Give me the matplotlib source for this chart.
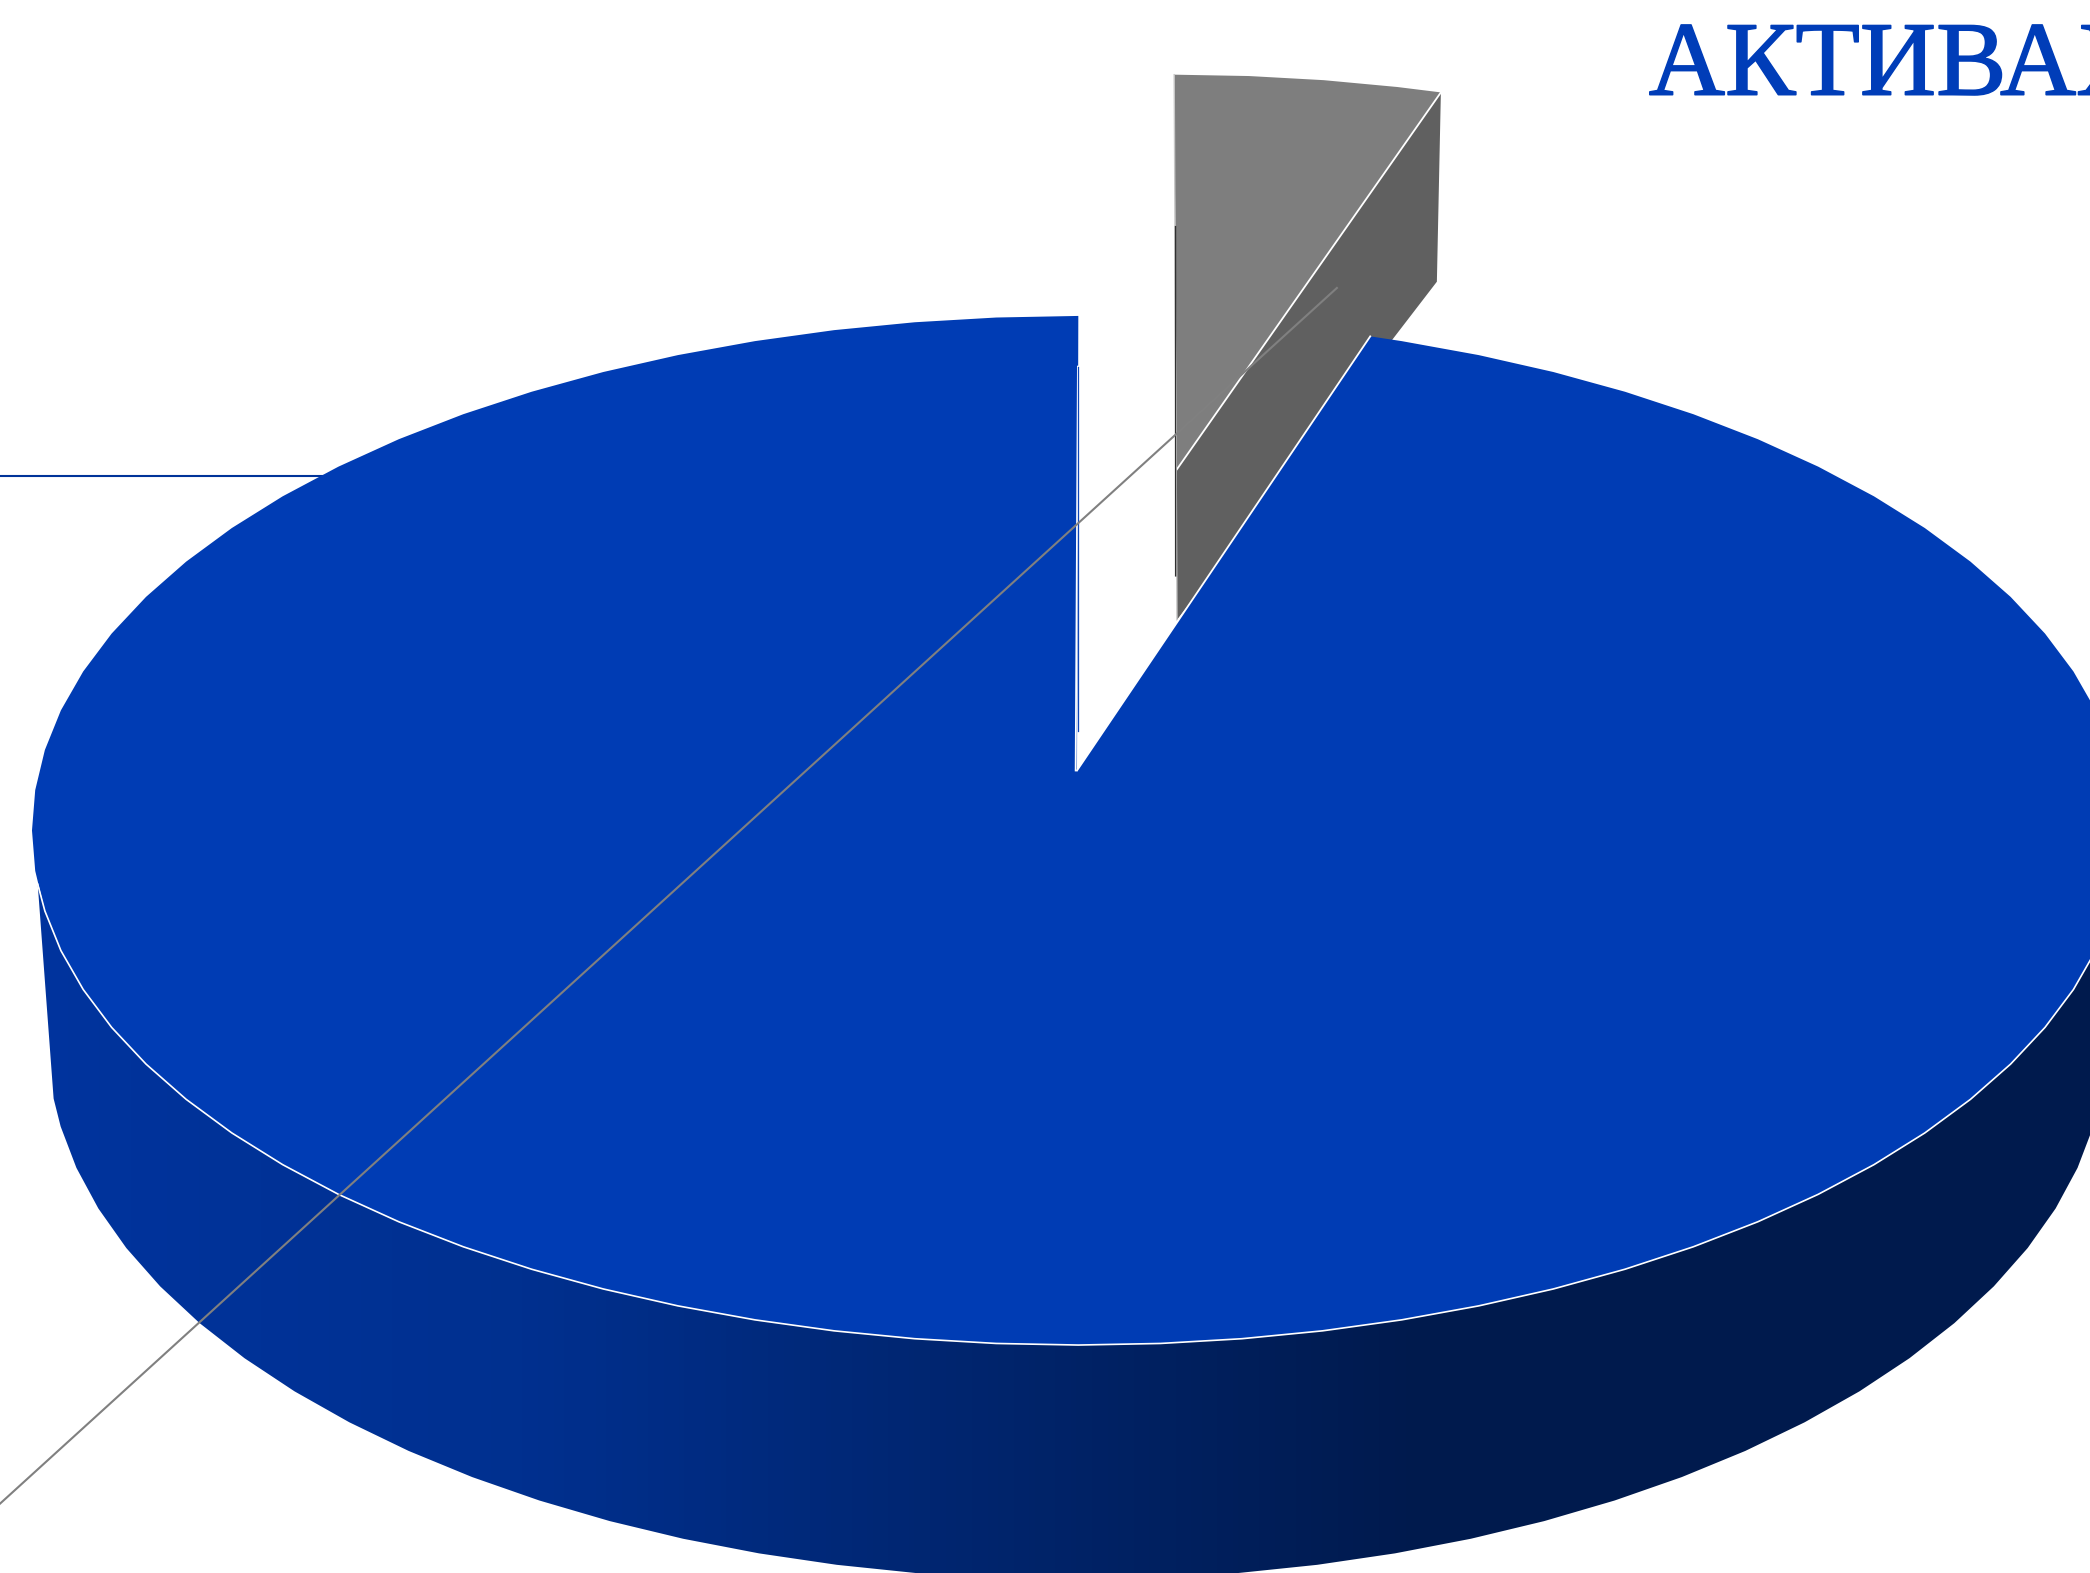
#!/usr/bin/env python3
# -*- coding: utf-8 -*-

import numpy as np
import matplotlib
matplotlib.use('Agg')
import matplotlib.pyplot as plt
import matplotlib.patheffects as pe
from matplotlib.colors import LinearSegmentedColormap
from matplotlib.patches import Polygon

TITLE = 'АКТИВАХ'
SHARES = [95.5, 4.5]  # blue slice, pulled out grey slice

BLUE = '#003cb4'
GREY_TOP = '#7e7e7e'
GREY_SIDE = '#606060'
LEADER = '#808080'
STEP = 4.5  # the pie rim is a polygon, not a smooth curve

W, H = 1568, 1180

# ellipse of the top face, ellipse of the bottom face, centre point of the pie
TOP = (809, 623, 785, 386)
BOTTOM = (808, 782, 772, 403)
APEX = (808, 578)


def rim(t, ell):
    cx, cy, rx, ry = ell
    a = np.radians(t)
    return np.column_stack([cx + rx * np.cos(a), cy - ry * np.sin(a)])


def rim_angles(t_from, t_to):
    # walks clockwise, t_from > t_to
    t = np.arange(90, t_to - STEP, -STEP)
    t = t[(t < t_from) & (t > t_to)]
    return np.concatenate([[t_from], t, [t_to]])


grey_span = 360 * SHARES[1] / sum(SHARES)
t_gap = 90 - grey_span

fig = plt.figure(figsize=(20.9, 15.73), dpi=100)
ax = fig.add_axes([0, 0, 1, 1])
ax.set_xlim(0, W)
ax.set_ylim(H, 0)
ax.axis('off')

# grey slice, smaller and higher up since it is pulled away from the pie
t_grey = rim_angles(90, t_gap)
g = rim(t_grey, TOP) - np.array(APEX)
g_apex = np.array([883, 352])
grey = np.column_stack([g_apex[0] + 0.913 * g[:, 0] + 0.0088 * g[:, 1],
                        g_apex[1] + 0.868 * g[:, 1]])
grey_top = np.vstack([g_apex, grey])
right_end = grey[-1]
grey_side = np.array([g_apex, right_end, right_end + [-3, 142], g_apex + [0, 113]])
ax.add_patch(Polygon(grey_side, closed=True, fc=GREY_SIDE, ec='none', zorder=2))
ax.add_patch(Polygon(grey_top, closed=True, fc=GREY_TOP, ec='none', zorder=3))
ax.plot([g_apex[0], right_end[0]], [g_apex[1], right_end[1]], color='white', lw=1.3, zorder=4)
ax.plot([grey[0][0], g_apex[0]], [grey[0][1], g_apex[1] + 113], color='#c8c8c8', lw=1.0, zorder=4)
ax.plot([grey[0][0] + 1, g_apex[0] - 1], [170, 432], color='#303030', lw=1.0, zorder=4)

# outer wall of the blue slice, with the gradient clipped to it
t_wall = rim_angles(-6, 186 - 360)
wall = np.vstack([rim(t_wall, TOP), rim(t_wall, BOTTOM)[::-1]])
cmap = LinearSegmentedColormap.from_list('wall', [(0, '#00349f'), (0.25, '#00308f'),
                                                  (0.68, '#001a4d'), (1, '#001a4d')])
im = ax.imshow(np.linspace(0, 1, 400).reshape(1, -1), extent=(0, W, H, 0), aspect='auto',
               cmap=cmap, zorder=5)
clip = Polygon(wall, closed=True, transform=ax.transData)
im.set_clip_path(clip)
ax.set_xlim(0, W)
ax.set_ylim(H, 0)

# top face of the blue slice
t_blue = rim_angles(t_gap, 90 - 360)
blue_rim = rim(t_blue, TOP)
ax.add_patch(Polygon(np.vstack([APEX, blue_rim]), closed=True, fc=BLUE, ec='none', zorder=6))

# white edges
front = rim(t_wall, TOP)
ax.plot(front[:, 0], front[:, 1], color='white', lw=1.2, zorder=7)
ax.plot([APEX[0], blue_rim[0][0]], [APEX[1], blue_rim[0][1]], color='white', lw=1.3, zorder=7)
ax.plot([APEX[0] - 1, blue_rim[-1][0] - 0.3], [APEX[1], 275], color='white', lw=1.3, zorder=7)
ax.plot([APEX[0] + 1, blue_rim[-1][0]], [APEX[1] - 30, 275], color='#0f46b8', lw=0.9, zorder=7)

# leader lines
ax.plot([0, 243], [357, 357], color='#003399', lw=1.5, zorder=1)
ax.plot([0, 1003], [1128, 216], color=LEADER, lw=1.5, zorder=8)

ax.text(1237, 71, TITLE, color='#003db8', fontsize=76, family='Liberation Serif',
        ha='left', va='baseline', zorder=9, clip_on=False,
        path_effects=[pe.withStroke(linewidth=1.2, foreground='#003db8')])

fig.savefig('out.png', dpi=100, facecolor='white')
plt.close()
